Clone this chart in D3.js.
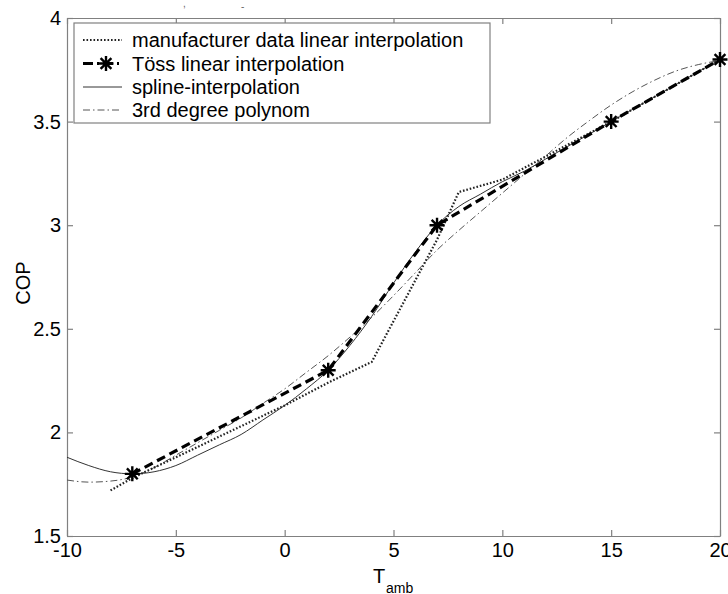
<!DOCTYPE html>
<html>
<head>
<meta charset="utf-8">
<script src="https://cdn.jsdelivr.net/npm/d3@7"></script>
<style>
  html, body { margin: 0; padding: 0; background: #fff; }
  svg { display: block; font-family: Arial, "Liberation Sans", sans-serif; }
</style>
</head>
<body>
<svg id="chart" width="728" height="594"></svg>
<script>
// ---------------- data ----------------
const xTicks = [-10, -5, 0, 5, 10, 15, 20];
const xTickLabels = ["-10", "-5", "0", "5", "10", "15", "20"];
const yTicks = [1.5, 2, 2.5, 3, 3.5, 4];
const yTickLabels = ["1.5", "2", "2.5", "3", "3.5", "4"];

const seriesNames = [
  "manufacturer data linear interpolation",
  "Töss linear interpolation",
  "spline-interpolation",
  "3rd degree polynom"
];

// Töss linear interpolation (with * markers)
const tossT   = [-7, 2, 7, 15, 20];
const tossCOP = [1.8, 2.3, 3.0, 3.5, 3.8];

// manufacturer data linear interpolation (dotted)
const manufT   = [-8, -7, -2, 0, 2, 4, 7, 8, 10, 15, 20];
const manufCOP = [1.72, 1.78, 2.03, 2.13, 2.24, 2.34, 2.93, 3.16, 3.22, 3.5, 3.8];

// spline-interpolation (thin solid)
const splineT   = [-10, -9, -8, -7, -6, -5, -4, -3, -2, -1, 0, 1, 2, 3, 4, 5, 6, 7, 8, 9, 10, 11, 12, 13, 14, 15, 16, 17, 18, 19, 20];
const splineCOP = [1.88, 1.84, 1.81, 1.80, 1.81, 1.84, 1.89, 1.94, 1.99, 2.06, 2.13, 2.21, 2.30, 2.42, 2.56, 2.72, 2.87, 3.00, 3.09, 3.15, 3.21, 3.26, 3.32, 3.38, 3.44, 3.50, 3.56, 3.62, 3.68, 3.74, 3.80];

// 3rd degree polynom (dash-dot)
const polyT   = [-10, -9, -8, -7, -6, -5, -4, -3, -2, -1, 0, 1, 2, 3, 4, 5, 6, 7, 8, 9, 10, 11, 12, 13, 14, 15, 16, 17, 18, 19, 20];
const polyCOP = [1.77, 1.76, 1.765, 1.785, 1.83, 1.89, 1.95, 2.01, 2.07, 2.14, 2.21, 2.29, 2.37, 2.46, 2.555, 2.66, 2.77, 2.88, 2.975, 3.065, 3.155, 3.245, 3.335, 3.425, 3.505, 3.58, 3.645, 3.70, 3.745, 3.775, 3.795];

// ---------------- layout ----------------
const svg = d3.select("#chart");
const W = 728, H = 594;
const m = { left: 67, top: 18, right: 8, bottom: 58 };
const pw = W - m.left - m.right;   // 653
const ph = H - m.top - m.bottom;   // 518

const x = d3.scaleLinear().domain([-10, 20]).range([m.left, m.left + pw]);
const y = d3.scaleLinear().domain([1.5, 4]).range([m.top + ph, m.top]);

const axisColor = "#808080";
const fontSize = 20;

// tiny marks at top of the original image
svg.append("text").attr("x", 183).attr("y", 7).attr("font-size", 10).attr("fill", "#666").text(",");
svg.append("text").attr("x", 241).attr("y", 10).attr("font-size", 10).attr("fill", "#666").text("-");

// ---------------- axes ----------------
function styleAxis(g) {
  g.selectAll("path.domain").attr("stroke", axisColor).attr("stroke-width", 1.2);
  g.selectAll(".tick line").attr("stroke", axisColor).attr("stroke-width", 1.2);
  g.selectAll(".tick text").attr("fill", "#000").attr("font-size", fontSize)
    .attr("font-family", "Arial, 'Liberation Sans', sans-serif");
}

svg.append("g").attr("transform", `translate(0,${m.top + ph})`)
  .call(d3.axisBottom(x).tickValues(xTicks).tickFormat((d, i) => xTickLabels[i])
    .tickSize(-6).tickSizeOuter(0).tickPadding(7))
  .call(styleAxis);

svg.append("g").attr("transform", `translate(0,${m.top})`)
  .call(d3.axisTop(x).tickValues(xTicks).tickFormat("").tickSize(-6).tickSizeOuter(0))
  .call(styleAxis);

svg.append("g").attr("transform", `translate(${m.left},0)`)
  .call(d3.axisLeft(y).tickValues(yTicks).tickFormat((d, i) => yTickLabels[i])
    .tickSize(-6).tickSizeOuter(0).tickPadding(6))
  .call(styleAxis);

svg.append("g").attr("transform", `translate(${m.left + pw},0)`)
  .call(d3.axisRight(y).tickValues(yTicks).tickFormat("").tickSize(-6).tickSizeOuter(0))
  .call(styleAxis);

// axis labels
svg.append("text")
  .attr("transform", `translate(23,${m.top + ph / 2 + 6}) rotate(-90)`)
  .attr("text-anchor", "middle").attr("dominant-baseline", "central")
  .attr("font-size", fontSize).attr("fill", "#000").text("COP");

svg.append("text").attr("x", 373).attr("y", 583)
  .attr("font-size", fontSize).attr("fill", "#000").text("T");
svg.append("text").attr("x", 386).attr("y", 593)
  .attr("font-size", 14).attr("fill", "#000").text("amb");

// ---------------- series ----------------
const plot = svg.append("g");

const zipPts = (xs, ys) => xs.map((t, i) => [t, ys[i]]);
const lineLin = d3.line().x(d => x(d[0])).y(d => y(d[1]));
const lineSmooth = d3.line().x(d => x(d[0])).y(d => y(d[1])).curve(d3.curveMonotoneX);

const styles = {
  manuf:  { stroke: "#222", width: 2.2, dash: "1.6,1.9" },
  toss:   { stroke: "#000", width: 3.2, dash: "9,5" },
  spline: { stroke: "#333", width: 1, dash: null },
  poly:   { stroke: "#555", width: 1, dash: "7,3,1.5,3" }
};

function drawLine(pts, gen, st) {
  plot.append("path").datum(pts).attr("d", gen)
    .attr("fill", "none").attr("stroke", st.stroke).attr("stroke-width", st.width)
    .attr("stroke-dasharray", st.dash).attr("stroke-linejoin", "round");
}

drawLine(zipPts(polyT, polyCOP), lineSmooth, styles.poly);
drawLine(zipPts(splineT, splineCOP), lineSmooth, styles.spline);
drawLine(zipPts(manufT, manufCOP), lineLin, styles.manuf);
drawLine(zipPts(tossT, tossCOP), lineLin, styles.toss);

// asterisk marker (MATLAB '*' : plus + cross)
function asteriskPath(r) {
  const d = r * 0.72;
  return `M${-r},0L${r},0M0,${-r}L0,${r}M${-d},${-d}L${d},${d}M${-d},${d}L${d},${-d}`;
}
plot.selectAll("path.marker").data(zipPts(tossT, tossCOP)).join("path")
  .attr("class", "marker")
  .attr("transform", d => `translate(${x(d[0])},${y(d[1])})`)
  .attr("d", asteriskPath(7.5))
  .attr("stroke", "#000").attr("stroke-width", 2.4).attr("fill", "none");

// ---------------- legend ----------------
const lg = svg.append("g");
lg.append("rect").attr("x", 74).attr("y", 23).attr("width", 416).attr("height", 100)
  .attr("fill", "#fff").attr("stroke", axisColor).attr("stroke-width", 1.2);

const rowY = [40, 63.5, 87, 110];
const keys = ["manuf", "toss", "spline", "poly"];
keys.forEach((k, i) => {
  const st = styles[k];
  lg.append("line").attr("x1", 83).attr("x2", 122).attr("y1", rowY[i]).attr("y2", rowY[i])
    .attr("stroke", st.stroke).attr("stroke-width", k === "toss" ? 3 : st.width)
    .attr("stroke-dasharray", k === "toss" ? "10,4,2,4" : st.dash);
  if (k === "toss") {
    lg.append("path").attr("transform", `translate(106,${rowY[i]})`)
      .attr("d", asteriskPath(7.5)).attr("stroke", "#000").attr("stroke-width", 2.4).attr("fill", "none");
  }
  lg.append("text").attr("x", 132).attr("y", rowY[i]).attr("dy", "0.36em")
    .attr("font-size", fontSize).attr("fill", "#000").text(seriesNames[i]);
});
</script>
</body>
</html>
